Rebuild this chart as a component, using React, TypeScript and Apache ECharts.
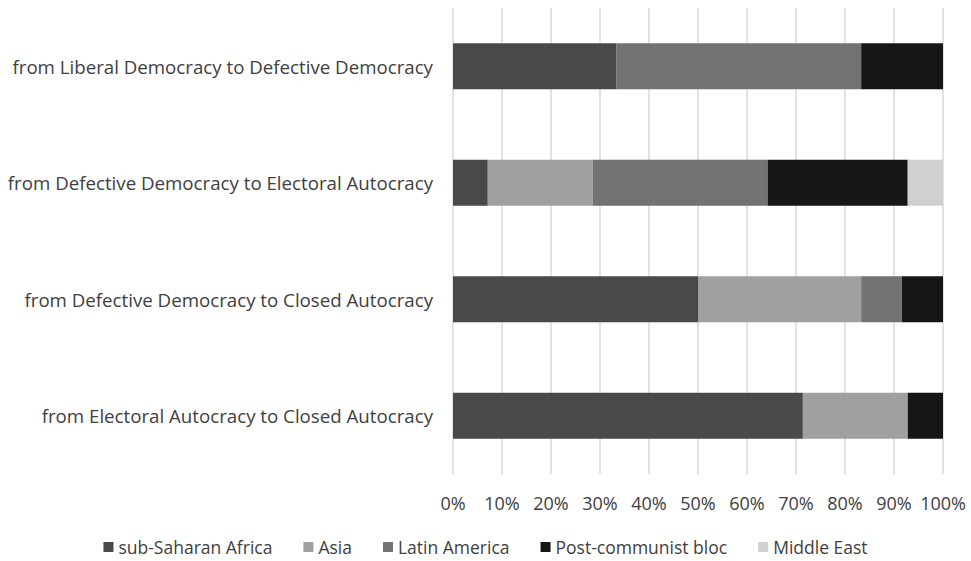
import React, { useEffect, useRef } from "react";
import * as echarts from "echarts";

const categories = [
  "from Liberal Democracy to Defective Democracy",
  "from Defective Democracy to Electoral Autocracy",
  "from Defective Democracy to Closed Autocracy",
  "from Electoral Autocracy to Closed Autocracy",
];
const seriesNames = ["sub-Saharan Africa", "Asia", "Latin America", "Post-communist bloc", "Middle East"];
const subSaharanAfrica = [33.3, 7.1, 50.0, 71.4];
const asia = [0, 21.4, 33.3, 21.4];
const latinAmerica = [50.0, 35.7, 8.3, 0];
const postCommunist = [16.7, 28.6, 8.4, 7.2];
const middleEast = [0, 7.2, 0, 0];
const xTicks = [0, 10, 20, 30, 40, 50, 60, 70, 80, 90, 100];
const colors = ["#494949", "#a0a0a0", "#727272", "#161616", "#d0d0d0"];

const FONT = "Open Sans";

export default function App() {
  const ref = useRef<HTMLDivElement>(null);
  useEffect(() => {
    if (!ref.current) return;
    const chart = echarts.init(ref.current, undefined, { renderer: "svg" });
    const data = [subSaharanAfrica, asia, latinAmerica, postCommunist, middleEast];
    chart.setOption({
      animation: false,
      textStyle: { fontFamily: FONT },
      grid: { left: 453, right: 28, top: 8, height: 466 },
      legend: {
        top: 537,
        left: "center",
        padding: 0,
        icon: "rect",
        itemWidth: 10,
        itemHeight: 10,
        itemGap: 31,
        itemStyle: { borderWidth: 0 },
        textStyle: { fontSize: 17.5, lineHeight: 20, color: "#404040", fontFamily: FONT },
        data: seriesNames,
      },
      xAxis: {
        type: "value",
        min: 0,
        max: 100,
        interval: 10,
        axisLine: { show: false },
        axisTick: { show: false },
        splitLine: { show: true, lineStyle: { color: "#d9d9d9", width: 1.5 } },
        axisLabel: {
          fontSize: 18,
          color: "#404040",
          margin: 20,
          hideOverlap: false,
          formatter: (v: number) => (xTicks.includes(v) ? v + "%" : ""),
        },
      },
      yAxis: {
        type: "category",
        inverse: true,
        data: categories,
        axisLine: { show: false },
        axisTick: { show: false },
        axisLabel: { fontSize: 18.7, color: "#404040", margin: 20 },
      },
      series: seriesNames.map((name, i) => ({
        name,
        type: "bar",
        stack: "total",
        barWidth: 46,
        itemStyle: { color: colors[i] },
        data: data[i],
      })),
    });
    return () => chart.dispose();
  }, []);
  return (
    <div
      ref={ref}
      style={{ position: "absolute", left: 0, top: 0, width: 971, height: 561 }}
    />
  );
}
